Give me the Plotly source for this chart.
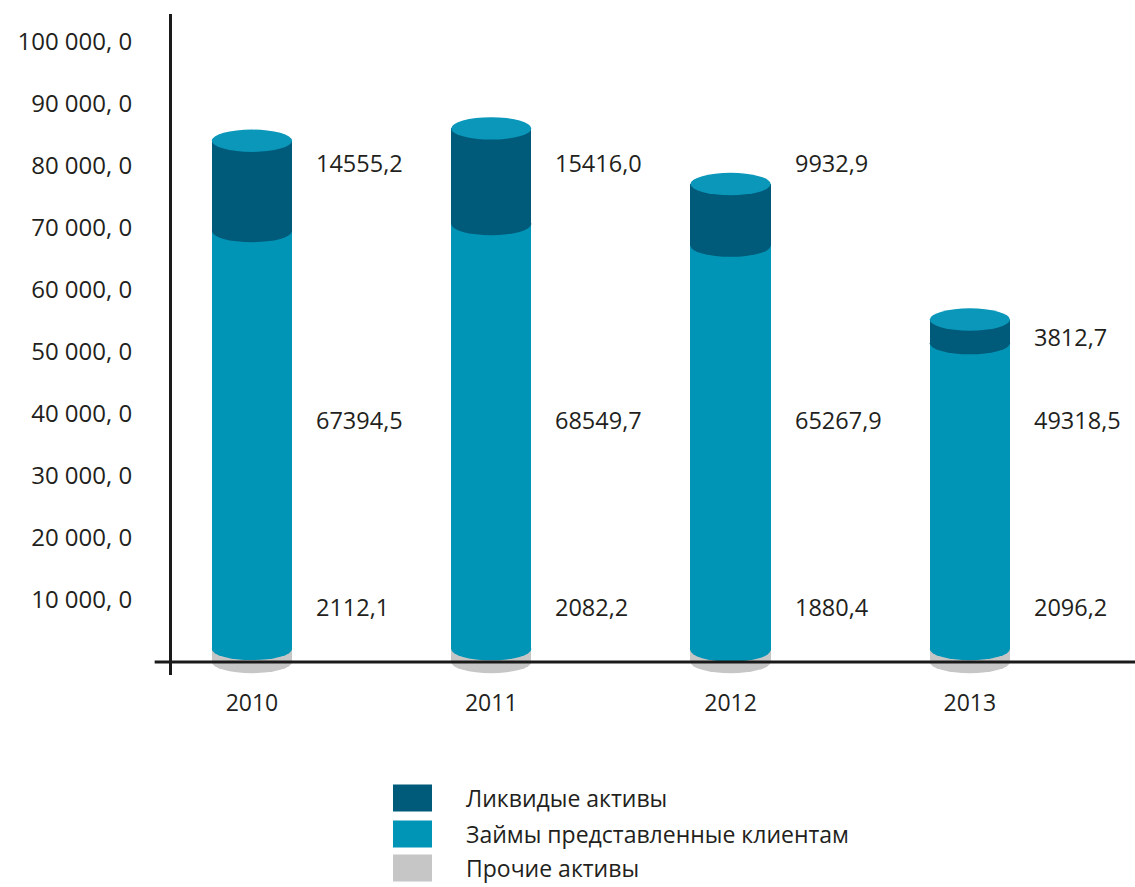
import plotly.graph_objects as go

# ---- data ----
years = ["2010", "2011", "2012", "2013"]
liquid_assets = [14555.2, 15416.0, 9932.9, 3812.7]        # Ликвидые активы
client_loans = [67394.5, 68549.7, 65267.9, 49318.5]       # Займы представленные клиентам
other_assets = [2112.1, 2082.2, 1880.4, 2096.2]           # Прочие активы
series_names = ["Ликвидые активы", "Займы представленные клиентам", "Прочие активы"]
y_tick_vals = [10000, 20000, 30000, 40000, 50000, 60000, 70000, 80000, 90000, 100000]
y_tick_text = ["10 000, 0", "20 000, 0", "30 000, 0", "40 000, 0", "50 000, 0",
               "60 000, 0", "70 000, 0", "80 000, 0", "90 000, 0", "100 000, 0"]

def fmt(v):
    return f"{v:.1f}".replace(".", ",")

# ---- style ----
C_DARK = "#005a7a"
C_MID = "#0095b6"
C_GRAY = "#c6c6c6"
C_CAP = "#0a97b9"
TXT = "#231f20"
FONT = "Open Sans"
BAR_W = 0.335
ELL_H = 1800          # half height of the cylinder ellipses (data units)
LBL_DX = 0.26
TOP_ROW = [80500, 80500, 80500, 52400]
MID_ROW = 39000
LOW_ROW = 8900

xs = list(range(len(years)))

fig = go.Figure()
for vals, col, name in [(other_assets, C_GRAY, series_names[2]),
                        (client_loans, C_MID, series_names[1]),
                        (liquid_assets, C_DARK, series_names[0])]:
    fig.add_trace(go.Bar(x=xs, y=vals, width=BAR_W, marker=dict(color=col, line=dict(width=0)),
                         name=name, showlegend=False))

shapes = []
for i in xs:
    g = other_assets[i]
    b = client_loans[i]
    d = liquid_assets[i]
    for yc, col in [(0, C_GRAY), (g, C_MID), (g + b, C_DARK), (g + b + d, C_CAP)]:
        shapes.append(dict(type="circle", xref="x", yref="y",
                           x0=i - BAR_W / 2, x1=i + BAR_W / 2,
                           y0=yc - ELL_H, y1=yc + ELL_H,
                           fillcolor=col, line=dict(width=0), layer="above"))

# x axis line (extends left past the y axis)
shapes.append(dict(type="line", xref="paper", yref="y", x0=-0.018, x1=1, y0=0, y1=0,
                   line=dict(color="#1a1a1a", width=3), layer="above"))

annotations = []
for i in xs:
    for yv, val in [(TOP_ROW[i], liquid_assets[i]), (MID_ROW, client_loans[i]), (LOW_ROW, other_assets[i])]:
        annotations.append(dict(x=i + LBL_DX, y=yv, xref="x", yref="y", text=fmt(val),
                                showarrow=False, xanchor="left", yanchor="middle",
                                font=dict(family=FONT, size=23.5, color=TXT)))

# custom legend
leg_cols = [C_DARK, C_MID, C_GRAY]
leg_y_px = [798, 834, 868]
for name, col, ypx in zip(series_names, leg_cols, leg_y_px):
    y0 = (675 - (ypx + 13.5)) / 661
    y1 = (675 - (ypx - 13.5)) / 661
    shapes.append(dict(type="rect", xref="paper", yref="paper",
                       x0=(393 - 172) / 963, x1=(432 - 172) / 963, y0=y0, y1=y1,
                       fillcolor=col, line=dict(width=0)))
    annotations.append(dict(x=(464 - 172) / 963, y=(675 - ypx) / 661, xref="paper", yref="paper",
                            text=name, showarrow=False, xanchor="left", yanchor="middle",
                            font=dict(family=FONT, size=23, color=TXT)))

fig.update_layout(
    width=1135, height=887,
    margin=dict(l=172, r=0, t=14, b=212),
    plot_bgcolor="white", paper_bgcolor="white",
    barmode="stack", bargap=0,
    shapes=shapes, annotations=annotations,
    font=dict(family=FONT, size=23, color=TXT),
    xaxis=dict(range=[-0.334, 3.69], tickvals=xs, ticktext=years, showgrid=False,
               zeroline=False, showline=False, ticks="", ticklabelstandoff=12,
               tickfont=dict(family=FONT, size=23, color=TXT), fixedrange=True),
    yaxis=dict(range=[-2100, 104500], tickvals=y_tick_vals, ticktext=y_tick_text,
               showgrid=False, zeroline=False, showline=True, linecolor="#1a1a1a", linewidth=3,
               ticks="", ticklabelstandoff=32,
               tickfont=dict(family=FONT, size=24, color=TXT), fixedrange=True),
)

fig.write_html("out.html")
